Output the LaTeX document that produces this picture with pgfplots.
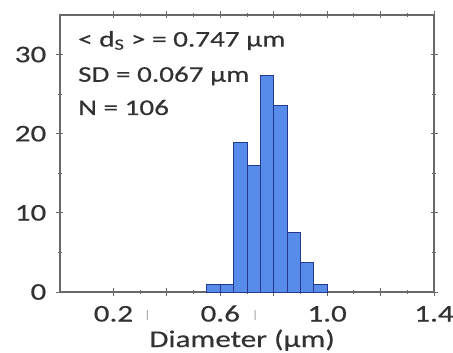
\documentclass[border=0pt]{standalone}
\usepackage{pgfplots}
\pgfplotsset{compat=1.18}
\usepackage{fontspec}
\setmainfont{Carlito}[FakeStretch=1.3, FakeBold=0.4]
\definecolor{barfill}{RGB}{88,140,234}
\definecolor{baredge}{RGB}{34,58,140}
\definecolor{axgray}{RGB}{105,105,105}
\definecolor{txt}{RGB}{50,50,50}
\newcommand{\lbl}{\fontsize{24}{26}\selectfont}
\newcommand{\note}{\fontsize{22.5}{25}\selectfont}
\newcommand{\stub}{\textcolor{gray!60}{\fontsize{11}{11}\selectfont|}}
\begin{document}
\begin{tikzpicture}
\useasboundingbox (-60bp,-61bp) rectangle (393bp,292bp);
\begin{axis}[
  at={(0,0)}, anchor=south west,
  scale only axis, width=374bp, height=277bp,
  xmin=0, xmax=1.4, ymin=0, ymax=35,
  xtick={0.2,0.4,0.6,0.8,1.0,1.2,1.4},
  xticklabels={0.2,,0.6,,1.0,,1.4},
  extra x ticks={0.327,0.73},
  extra x tick labels={\stub,\stub},
  extra x tick style={major tick length=0pt},
  ytick={0,10,20,30},
  minor x tick num=1, minor y tick num=1,
  tick align=center,
  major tick length=7bp, minor tick length=4bp,
  tick style={axgray, line width=1pt},
  axis line style={axgray, line width=1.3pt},
  /pgf/number format/assume math mode=true,
  ticklabel style={font=\lbl, text=txt},
  xticklabel style={anchor=base, inner sep=0pt, yshift=-26bp},
  yticklabel style={anchor=east, inner sep=0pt, xshift=-10bp},
  xlabel={Diameter (µm)},
  xlabel style={at={(rel axis cs:0.487,0)}, anchor=base, inner sep=0pt,
    yshift=-55bp, font=\fontsize{24}{26}\selectfont, text=txt},
  clip=false,
]
% size distribution, percent of particles per 0.05 um bin (N = 106)
\addplot[ybar interval, fill=barfill, draw=baredge, line width=1pt] coordinates {
  (0.55,0.94) (0.60,0.94) (0.65,18.87) (0.70,16.04) (0.75,27.36)
  (0.80,23.58) (0.85,7.55) (0.90,3.77) (0.95,0.94) (1.00,0.94)
};
\node[anchor=base west, text=txt, font=\note, inner sep=0pt]
  at (rel axis cs:0.048,0.886) {< d\textsubscript{S} > = 0.747 µm};
\node[anchor=base west, text=txt, font=\note, inner sep=0pt]
  at (rel axis cs:0.048,0.759) {SD = 0.067 µm};
\node[anchor=base west, text=txt, font=\note, inner sep=0pt]
  at (rel axis cs:0.048,0.639) {N = 106};
\end{axis}
\end{tikzpicture}
\end{document}
